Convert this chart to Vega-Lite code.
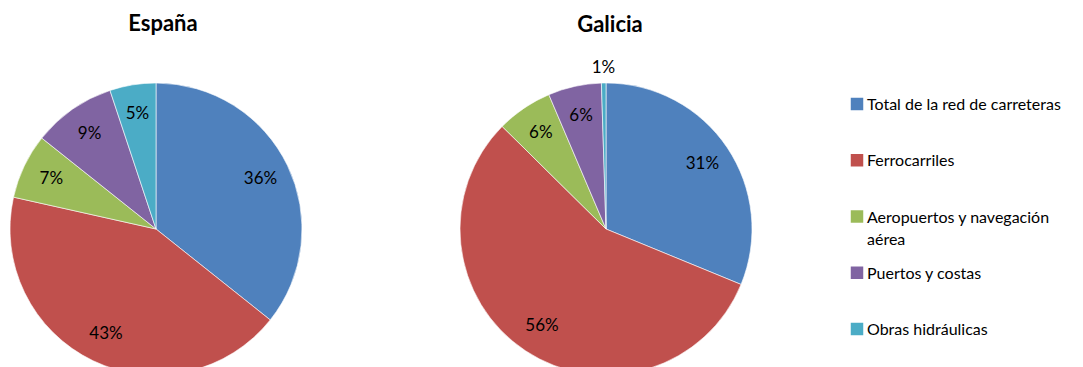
{
  "$schema": "https://vega.github.io/schema/vega-lite/v6.json",
  "padding": {"left": 6, "top": 13, "right": 0, "bottom": 0},
  "background": "white",
  "config": {"view": {"stroke": null}, "font": "Lato"},
  "datasets": {
    "d": [
      {"region": "España", "category": "Total de la red de carreteras", "orden": 1, "value": 35.7, "label": "36%"},
      {"region": "España", "category": "Ferrocarriles", "orden": 2, "value": 42.8, "label": "43%"},
      {"region": "España", "category": "Aeropuertos y navegación aérea", "orden": 3, "value": 7.2, "label": "7%"},
      {"region": "España", "category": "Puertos y costas", "orden": 4, "value": 9.2, "label": "9%"},
      {"region": "España", "category": "Obras hidráulicas", "orden": 5, "value": 5.1, "label": "5%"},
      {"region": "Galicia", "category": "Total de la red de carreteras", "orden": 1, "value": 31.2, "label": "31%"},
      {"region": "Galicia", "category": "Ferrocarriles", "orden": 2, "value": 56.2, "label": "56%"},
      {"region": "Galicia", "category": "Aeropuertos y navegación aérea", "orden": 3, "value": 6.2, "label": "6%"},
      {"region": "Galicia", "category": "Puertos y costas", "orden": 4, "value": 5.9, "label": "6%"},
      {"region": "Galicia", "category": "Obras hidráulicas", "orden": 5, "value": 0.5, "label": "1%"}
    ]
  },
  "spacing": 94,
  "resolve": {"scale": {"color": "shared"}},
  "hconcat": [
    {
      "spacing": 150,
      "resolve": {"scale": {"color": "shared", "theta": "independent"}},
      "hconcat": [
        {
          "width": 300,
          "height": 300,
          "title": {"text": "España", "fontSize": 22, "fontWeight": "bold", "font": "Lato", "color": "black", "offset": 43, "dx": 7},
          "data": {"name": "d"},
          "transform": [{"filter": "datum.region == 'España'"}],
          "layer": [
            {
              "mark": {"type": "arc", "outerRadius": 146, "stroke": "white", "strokeWidth": 0.6},
              "encoding": {
                "theta": {"field": "value", "type": "quantitative", "stack": true},
                "order": {"field": "orden", "type": "quantitative"},
                "color": {
                  "field": "category", "type": "nominal", "legend": null,
                  "scale": {
                    "domain": ["Total de la red de carreteras", "Ferrocarriles", "Aeropuertos y navegación aérea", "Puertos y costas", "Obras hidráulicas"],
                    "range": ["#4F81BD", "#C0504D", "#9BBB59", "#8064A2", "#4BACC6"]
                  }
                }
              }
            },
            {
              "mark": {"type": "text", "radius": 116, "fontSize": 17, "font": "Lato", "fill": "black"},
              "encoding": {
                "theta": {"field": "value", "type": "quantitative", "stack": true},
                "order": {"field": "orden", "type": "quantitative"},
                "detail": {"field": "category", "type": "nominal"},
                "text": {"field": "label", "type": "nominal"}
              }
            }
          ]
        },
        {
          "width": 300,
          "height": 300,
          "title": {"text": "Galicia", "fontSize": 22, "fontWeight": "bold", "font": "Lato", "color": "black", "offset": 22, "dx": 4},
          "data": {"name": "d"},
          "transform": [{"filter": "datum.region == 'Galicia'"}],
          "layer": [
            {
              "mark": {"type": "arc", "outerRadius": 146, "stroke": "white", "strokeWidth": 0.6},
              "encoding": {
                "theta": {"field": "value", "type": "quantitative", "stack": true},
                "order": {"field": "orden", "type": "quantitative"},
                "color": {"field": "category", "type": "nominal", "legend": null}
              }
            },
            {
              "mark": {"type": "text", "radius": 116, "fontSize": 17, "font": "Lato", "fill": "black"},
              "encoding": {
                "theta": {"field": "value", "type": "quantitative", "stack": true},
                "order": {"field": "orden", "type": "quantitative"},
                "detail": {"field": "category", "type": "nominal"},
                "text": {"condition": {"test": "datum.value >= 1", "field": "label", "type": "nominal"}, "value": ""}
              }
            },
            {
              "mark": {"type": "text", "radius": 161, "fontSize": 17, "font": "Lato", "fill": "black"},
              "encoding": {
                "theta": {"field": "value", "type": "quantitative", "stack": true},
                "order": {"field": "orden", "type": "quantitative"},
                "detail": {"field": "category", "type": "nominal"},
                "text": {"condition": {"test": "datum.value < 1", "field": "label", "type": "nominal"}, "value": ""}
              }
            }
          ]
        }
      ]
    },
    {
      "width": 12,
      "height": 300,
      "data": {"name": "d"},
      "transform": [
        {"filter": "datum.region == 'España'"},
        {"calculate": "datum.category == 'Aeropuertos y navegación aérea' ? ['Aeropuertos y navegación', 'aérea'] : datum.category", "as": "leyenda"}
      ],
      "encoding": {
        "y": {
          "field": "category", "type": "nominal", "axis": null,
          "scale": {
            "type": "point", "padding": 0, "range": [25, 250],
            "domain": ["Total de la red de carreteras", "Ferrocarriles", "Aeropuertos y navegación aérea", "Puertos y costas", "Obras hidráulicas"]
          }
        }
      },
      "layer": [
        {
          "mark": {"type": "point", "shape": "square", "filled": true, "size": 156, "opacity": 1},
          "encoding": {
            "color": {"field": "category", "type": "nominal", "legend": null}
          }
        },
        {
          "mark": {"type": "text", "align": "left", "baseline": "alphabetic", "dx": 10, "dy": 6, "fontSize": 16, "font": "Lato", "fill": "black", "lineHeight": 22},
          "encoding": {
            "text": {"field": "leyenda", "type": "nominal"}
          }
        }
      ]
    }
  ]
}
